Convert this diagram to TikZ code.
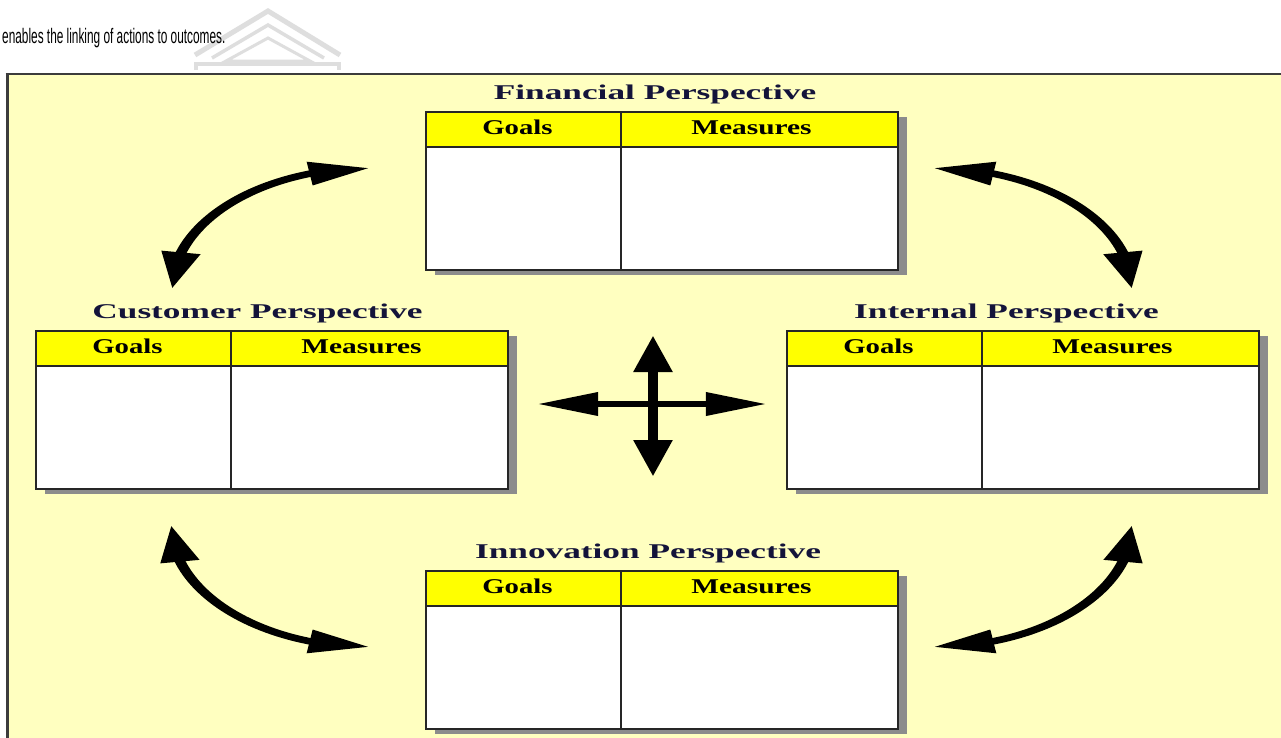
\documentclass[tikz,border=0pt]{standalone}
\usepackage{fontspec}
\usepackage{graphicx}
\setmainfont{Liberation Serif}
\newfontfamily\bodysans{Liberation Sans}
\usetikzlibrary{arrows.meta,bending,calc}

\definecolor{panelyellow}{HTML}{FFFFC0}
\definecolor{headyellow}{HTML}{FFFF00}
\definecolor{shadowgray}{HTML}{8C8C8C}
\definecolor{titleink}{HTML}{14143A}
\definecolor{crestgray}{HTML}{DEDEDE}
\definecolor{frameink}{HTML}{3C3C3C}

\tikzset{
  cellbox/.style={draw=black!85, line width=2pt, inner sep=0pt, outer sep=0pt, anchor=north west},
  headcell/.style={cellbox, fill=headyellow, minimum height=35pt},
  bodycell/.style={cellbox, fill=white, minimum height=123pt},
  goalcol/.style={minimum width=195pt},
  measurecol/.style={minimum width=277pt},
  celllabel/.style={inner sep=0pt, anchor=base, font=\fontsize{21}{21}\selectfont\bfseries},
  boxtitle/.style={inner sep=0pt, anchor=base, text=titleink, font=\fontsize{21}{21}\selectfont\bfseries},
  linkarrow/.style={line width=6.5pt,
    {Triangle[length=37pt,width=22pt,flex]}-{Triangle[length=37pt,width=22pt,flex]}},
  crest/.style={draw=crestgray, line join=miter},
}

% One perspective: drop shadow, two-column table, header labels and title
% #1 name, #2 left x, #3 top y, #4 title, #5 title centre x
\newcommand\perspectivebox[5]{%
  \fill[shadowgray] (#2+9,#3+5) rectangle (#2+481,#3+163);
  \node[headcell,goalcol] (#1-gh) at (#2,#3) {};
  \node[headcell,measurecol] (#1-mh) at (#1-gh.north east) {};
  \node[bodycell,goalcol] (#1-gb) at (#1-gh.south west) {};
  \node[bodycell,measurecol] (#1-mb) at (#1-mh.south west) {};
  \node[celllabel] (#1-gl) at ($(#1-gh.center)+(-6,4.8)$) {\scalebox{1.37}[1]{Goals}};
  \node[celllabel] (#1-ml) at ($(#1-mh.center)+(-8,4.8)$) {\scalebox{1.40}[1]{Measures}};
  \node[boxtitle] (#1-t) at (#5,#3-12.7) {\scalebox{1.68}[1]{#4}};
}

\begin{document}
\begin{tikzpicture}[x=1pt,y=-1pt]
\useasboundingbox (0,0) rectangle (1281,737);
\clip (0,0) rectangle (1281,737);

% page background
\fill[white] (0,0) rectangle (1281,737);

% crest printed faintly behind the text
\draw[crest, line width=5pt] (195,55) -- (268,11) -- (340,55);
\draw[crest, line width=3.5pt] (212,58) -- (268,25) -- (324,58);
\draw[crest, line width=3pt] (226,61) -- (268,38) -- (310,61) -- cycle;
\draw[crest, line width=4pt] (196,70) -- (196,64) -- (339,64) -- (339,70);

% running text line
\node[inner sep=0pt, anchor=base west, font=\bodysans\fontsize{21}{21}\selectfont] (lead)
  at (2,43) {\scalebox{0.564}[1]{enables the linking of actions to outcomes.}};

% scorecard panel
\fill[panelyellow] (7,74) rectangle (1300,760);
\draw[frameink, line width=3pt] (7,760) -- (7,74.9);
\draw[frameink, line width=1.8pt] (5.5,74) -- (1300,74);

% the four perspectives
\perspectivebox{fin}{426}{112}{Financial Perspective}{655}
\perspectivebox{cus}{36}{331}{Customer Perspective}{257.5}
\perspectivebox{int}{787}{331}{Internal Perspective}{1006.5}
\perspectivebox{inn}{426}{571}{Innovation Perspective}{648}

% linking arrows, drawn on a horizontally stretched canvas
\begin{scope}[transform canvas={xscale=1.65}, xscale=1/1.65]
  \coordinate (tlA) at (370,168);  \coordinate (tlB) at (172,289);
  \coordinate (trA) at (933,168);  \coordinate (trB) at (1132,289);
  \coordinate (blA) at (171,525);  \coordinate (blB) at (370,647);
  \coordinate (brA) at (1132,525); \coordinate (brB) at (933,647);
  \draw[linkarrow] (tlA) .. controls (260.6,168) and (172,222.2) .. (tlB);
  \draw[linkarrow] (trA) .. controls (1042.4,168) and (1132,222.2) .. (trB);
  \draw[linkarrow] (blA) .. controls (171,592.4) and (260.6,647) .. (blB);
  \draw[linkarrow] (brA) .. controls (1132,592.4) and (1042.4,647) .. (brB);

  \coordinate (hubW) at (537,404); \coordinate (hubE) at (767,404);
  \coordinate (hubN) at (653,335); \coordinate (hubS) at (653,477);
  \draw[linkarrow] (hubW) -- (hubE);
  \draw[linkarrow] (hubN) -- (hubS);
\end{scope}
\end{tikzpicture}
\end{document}
